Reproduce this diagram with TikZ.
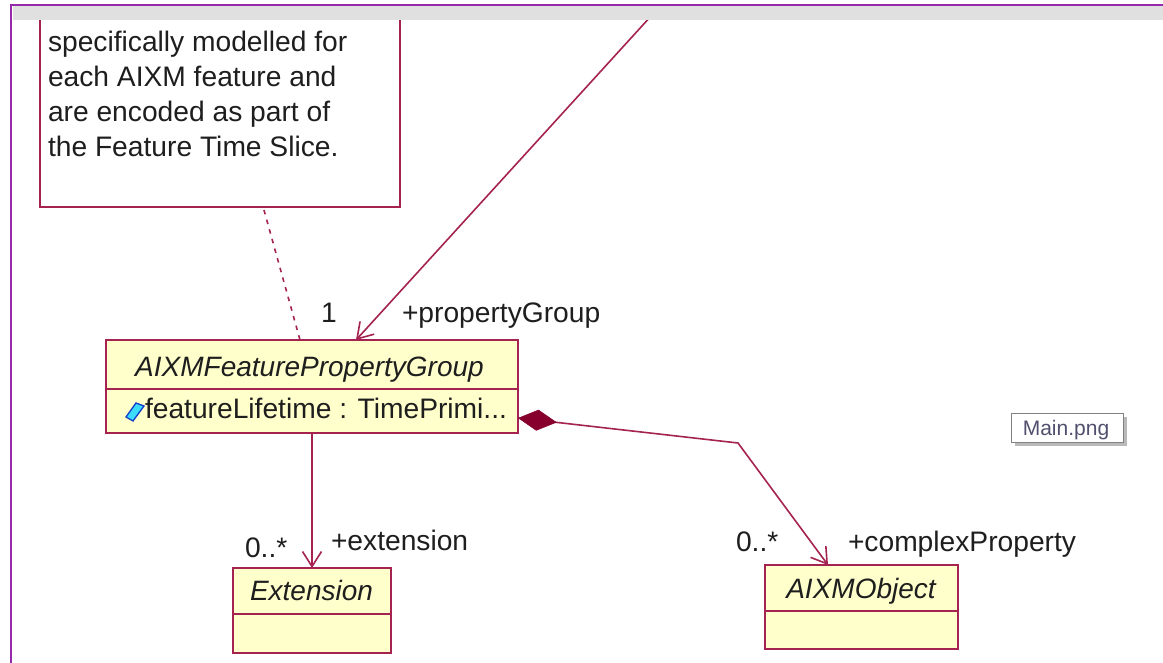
\documentclass[tikz,border=0pt]{standalone}
\usepackage{fontspec}
\setmainfont{Liberation Sans}
\usetikzlibrary{arrows.meta,calc}
\definecolor{umlline}{RGB}{165,35,80}
\definecolor{umlfill}{RGB}{255,255,204}
\definecolor{compfill}{RGB}{135,0,45}
\definecolor{framepurple}{RGB}{150,40,170}
\definecolor{greybar}{RGB}{224,224,224}
\definecolor{textcol}{RGB}{30,30,30}
\definecolor{tipgrey}{RGB}{130,130,130}
\definecolor{tiptext}{RGB}{80,80,110}
\definecolor{iconblue}{RGB}{20,60,200}
\definecolor{iconcyan}{RGB}{60,220,255}
\begin{document}
\begin{tikzpicture}[x=1pt,y=-1pt,
  every node/.style={inner sep=0pt, outer sep=0pt},
  txt/.style={font=\fontsize{28.2}{33}\selectfont, text=textcol},
  clsname/.style={font=\fontsize{28}{33}\selectfont\itshape, text=textcol},
  cls/.style={draw=umlline, line width=1.8pt, fill=umlfill, rectangle},
  notebox/.style={draw=umlline, line width=1.8pt, fill=white, rectangle},
  conn/.style={draw=umlline, line width=1.6pt},
  nav/.style={-{Straight Barb[length=15pt,width=19pt,line width=1.6pt]}},
  comp/.style={{Diamond[length=39pt,width=21pt,line width=0.5pt,fill=compfill,color=compfill]}-{Straight Barb[length=15pt,width=19pt,line width=1.6pt]}}]
\useasboundingbox (0,0) rectangle (1163,663);
\fill[white] (0,0) rectangle (1163,663);

% note
\node[notebox, minimum width=360pt, minimum height=195pt] (note) at (220,109.5) {};
\node[txt, anchor=base west] (n1) at (48,52) {specifically modelled for};
\node[txt, anchor=base west] (n2) at (48,87) {each AIXM feature and};
\node[txt, anchor=base west] (n3) at (48,122) {are encoded as part of};
\node[txt, anchor=base west] (n4) at (48,157) {the Feature Time Slice.};

% classes
\node[cls, minimum width=412pt, minimum height=93pt] (fpg) at (312,386.5) {};
\node[clsname, anchor=base] (fpgname) at (309.5,376) {AIXMFeaturePropertyGroup};
\draw[umlline, line width=1.8pt] (fpg.west |- 0,389) -- (fpg.east |- 0,389);
\filldraw[fill=iconcyan, draw=iconblue, line width=1.3pt] (126,417) -- (136,403) -- (144,406) -- (133,421) -- cycle;
\node[txt, anchor=base west] (attr) at (145,418) {featureLifetime : TimePrimi...};

\node[cls, minimum width=158pt, minimum height=85pt] (ext) at (312,610.5) {};
\node[clsname, anchor=base] (extname) at (311.5,600) {Extension};
\draw[umlline, line width=1.8pt] (ext.west |- 0,614) -- (ext.east |- 0,614);

\node[cls, minimum width=193pt, minimum height=84pt] (obj) at (861.5,607) {};
\node[clsname, anchor=base] (objname) at (861,598) {AIXMObject};
\draw[umlline, line width=1.8pt] (obj.west |- 0,611) -- (obj.east |- 0,611);

% connectors
\coordinate (topend) at (652,15);
\coordinate (bend) at (738,443);
\draw[conn, nav] (topend) -- ($(fpg.north west)+(250,0)$);
\draw[conn, dash pattern=on 4.5pt off 5.5pt] ($(note.south west)+(224,3)$) -- ($(fpg.north west)+(194,0)$);
\draw[conn, nav] (fpg.south) -- (ext.north);
\draw[conn, comp] ($(fpg.south east)+(0,-15)$) -- (bend) -- ($(obj.north)+(-33.5,0)$);

% labels
\node[txt, anchor=base west] (l1) at (321,323) {1};
\node[txt, anchor=base west] (l2) at (402,323) {+propertyGroup};
\node[txt, anchor=base west] (l3) at (245,557) {0..*};
\node[txt, anchor=base west] (l4) at (331,550) {+extension};
\node[txt, anchor=base west] (l5) at (736,551) {0..*};
\node[txt, anchor=base west] (l6) at (848,551) {+complexProperty};

% tooltip
\fill[gray!55] (1015,417) rectangle (1127,446);
\node[draw=tipgrey, fill=white, line width=1pt, minimum width=112pt, minimum height=29pt] (tip) at (1067,427.5) {};
\node[font=\fontsize{21}{24}\selectfont, text=tiptext, anchor=base] (tiptxt) at (1066,435) {Main.png};

% window frame
\fill[greybar] (12.5,6.5) rectangle (1163,20);
\draw[framepurple, line width=2.5pt] (11,663) -- (11,5) -- (1163,5);
\end{tikzpicture}
\end{document}
